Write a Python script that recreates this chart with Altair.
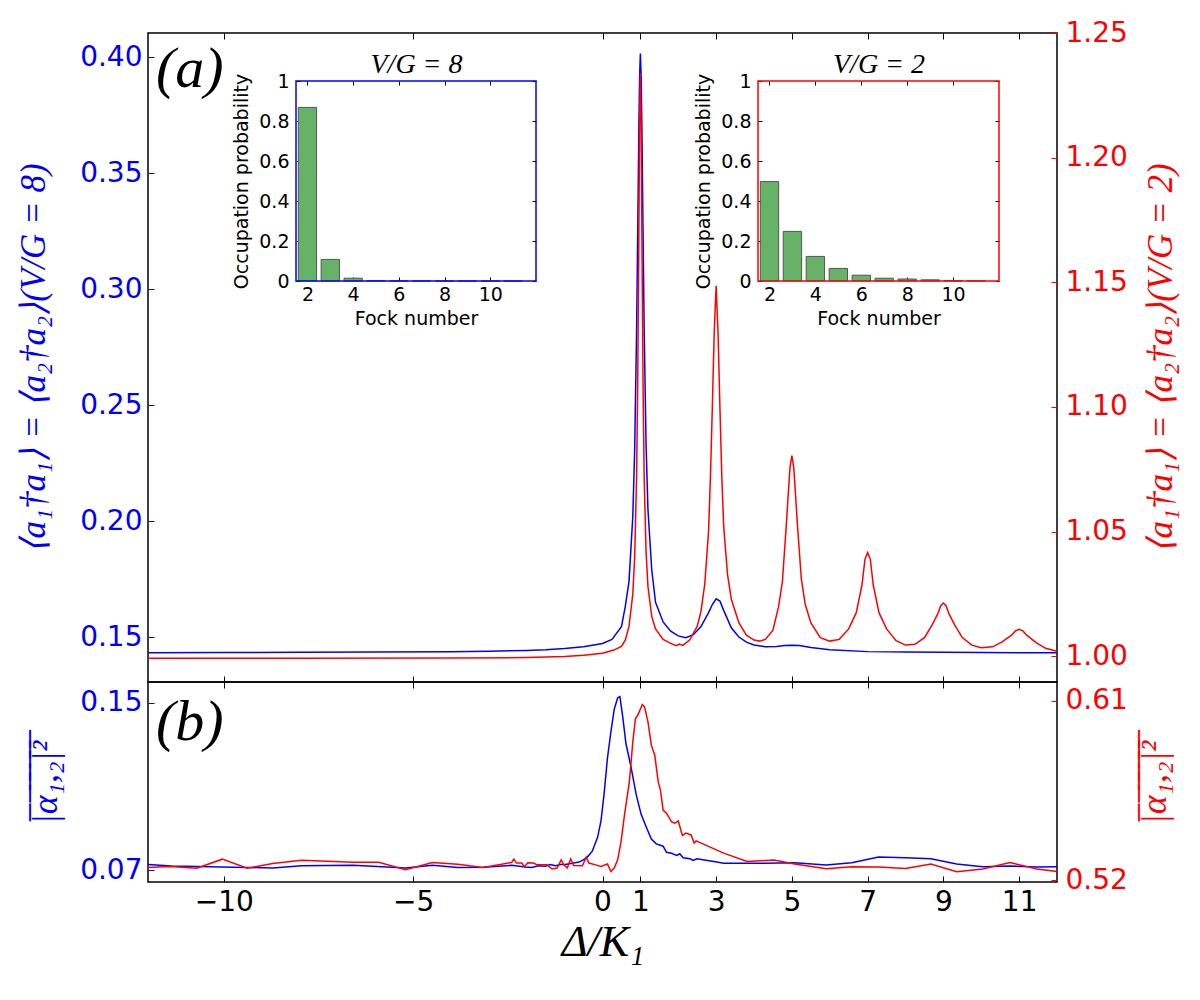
import altair as alt
import pandas as pd

# ---------------- data ----------------
# panel (a): <a1^+ a1> for V/G = 8 (blue, left axis)
a_blue_x = [-12.0, -10.0, -8.0, -6.0, -4.0, -3.0, -2.0, -1.5, -1.0, -0.5,
            0.0, 0.25, 0.5, 0.6, 0.7, 0.8, 0.85, 0.9, 0.93, 0.96,
            0.98, 1.0, 1.02, 1.04, 1.07, 1.1, 1.15, 1.2, 1.3, 1.4,
            1.6, 1.8, 2.0, 2.2, 2.4, 2.6, 2.8, 2.9, 3.0, 3.1,
            3.2, 3.4, 3.6, 3.8, 4.0, 4.3, 4.6, 4.8, 5.0, 5.2,
            5.5, 6.0, 7.0, 8.0, 10.0, 12.0]
a_blue_y = [0.1432, 0.1433, 0.1434, 0.1435, 0.1437, 0.1439, 0.1442, 0.1445, 0.1450, 0.1458,
            0.1472, 0.1490, 0.1545, 0.1630, 0.1740, 0.2020, 0.2310, 0.2820, 0.3250, 0.3700,
            0.3920, 0.4017, 0.3920, 0.3700, 0.3260, 0.2830, 0.2330, 0.2050, 0.1790, 0.1650,
            0.1565, 0.1525, 0.1505, 0.1497, 0.1510, 0.1545, 0.1605, 0.1640, 0.1665, 0.1655,
            0.1615, 0.1540, 0.1500, 0.1478, 0.1466, 0.1458, 0.1459, 0.1463, 0.1465, 0.1463,
            0.1455, 0.1445, 0.1437, 0.1435, 0.1433, 0.1432]

# panel (a): V/G = 2 (red, right axis)
a_red_x = [-12.0, -8.0, -4.0, -2.0, -1.0, -0.5, 0.0, 0.3, 0.5, 0.6,
           0.7, 0.8, 0.85, 0.9, 0.93, 0.96, 0.98, 1.0, 1.02, 1.04,
           1.07, 1.1, 1.15, 1.2, 1.3, 1.4, 1.6, 1.8, 1.95, 2.03,
           2.12, 2.3, 2.5, 2.6, 2.7, 2.8, 2.85, 2.9, 2.95, 3.0,
           3.05, 3.1, 3.15, 3.2, 3.3, 3.4, 3.6, 3.8, 4.0, 4.15,
           4.3, 4.5, 4.65, 4.75, 4.85, 4.9, 4.95, 5.0, 5.05, 5.1,
           5.15, 5.25, 5.35, 5.5, 5.75, 6.0, 6.25, 6.5, 6.7, 6.85,
           6.93, 7.0, 7.07, 7.15, 7.3, 7.5, 7.75, 8.0, 8.25, 8.5,
           8.7, 8.85, 8.93, 9.0, 9.07, 9.15, 9.3, 9.5, 9.75, 10.0,
           10.3, 10.55, 10.8, 10.9, 11.0, 11.1, 11.2, 11.45, 11.7, 12.0]
a_red_y = [0.9992, 0.9992, 0.9993, 0.9995, 0.9999, 1.0004, 1.0012, 1.0025, 1.0040, 1.0065,
           1.0120, 1.0250, 1.0400, 1.0720, 1.1100, 1.1700, 1.2140, 1.2340, 1.2140, 1.1700,
           1.1100, 1.0720, 1.0420, 1.0280, 1.0160, 1.0110, 1.0068, 1.0052, 1.0043, 1.0049,
           1.0044, 1.0065, 1.0120, 1.0180, 1.0290, 1.0500, 1.0720, 1.1000, 1.1300, 1.1486,
           1.1300, 1.1000, 1.0720, 1.0520, 1.0330, 1.0230, 1.0135, 1.0085, 1.0065, 1.0061,
           1.0068, 1.0105, 1.0200, 1.0300, 1.0520, 1.0640, 1.0757, 1.0805, 1.0757, 1.0640,
           1.0520, 1.0310, 1.0210, 1.0135, 1.0075, 1.0061, 1.0068, 1.0110, 1.0175, 1.0285,
           1.0390, 1.0416, 1.0390, 1.0285, 1.0175, 1.0110, 1.0063, 1.0045, 1.0048, 1.0075,
           1.0125, 1.0170, 1.0203, 1.0214, 1.0203, 1.0170, 1.0125, 1.0075, 1.0045, 1.0034,
           1.0038, 1.0058, 1.0085, 1.0102, 1.0108, 1.0102, 1.0085, 1.0055, 1.0032, 1.0020]

# panel (b): mean |alpha_{1,2}|^2
b_blue_x = [-12.0, -11.38, -10.04, -8.71, -7.95, -6.58, -5.2, -4.49, -3.82, -3.15,
            -2.4, -2.04, -1.87, -1.69, -1.51, -1.38, -1.24, -1.11, -0.98, -0.8,
            -0.62, -0.53, -0.4, -0.27, -0.13, -0.04, 0.04, 0.13, 0.22, 0.31,
            0.4, 0.46, 0.53, 0.62, 0.76, 0.89, 1.02, 1.16, 1.29, 1.42,
            1.6, 1.69, 1.82, 1.96, 2.04, 2.13, 2.31, 2.4, 2.49, 3.02,
            3.2, 4.27, 5.07, 5.91, 6.58, 7.29, 8.0, 8.67, 9.35, 10.04,
            10.76, 11.47, 12.0]
b_blue_y = [0.0727, 0.0720, 0.07155, 0.0711, 0.0722, 0.07235, 0.0711, 0.0724, 0.0713, 0.0714,
            0.07235, 0.07155, 0.0713, 0.0722, 0.0719, 0.0727, 0.0722, 0.0728, 0.0728, 0.0733,
            0.0739, 0.0747, 0.0763, 0.0791, 0.0857, 0.0936, 0.1061, 0.1234, 0.1359, 0.1469,
            0.1524, 0.1529, 0.1438, 0.1304, 0.1187, 0.1061, 0.0967, 0.0904, 0.0849, 0.0826,
            0.0815, 0.0786, 0.0781, 0.0771, 0.0779, 0.0760, 0.0755, 0.0747, 0.0755, 0.0739,
            0.0734, 0.0734, 0.0736, 0.0725, 0.0736, 0.0763, 0.0760, 0.0755, 0.0730, 0.0717,
            0.0720, 0.0716, 0.0717]
b_red_x = [-12.0, -11.42, -10.71, -10.04, -9.38, -8.71, -7.95, -6.58, -5.91, -5.2,
           -4.49, -3.82, -3.15, -2.4, -2.34, -2.27, -2.13, -2.06, -1.97, -1.82,
           -1.73, -1.47, -1.33, -1.2, -1.09, -1.02, -0.93, -0.84, -0.76, -0.53,
           -0.43, -0.36, -0.18, -0.04, 0.13, 0.22, 0.31, 0.4, 0.49, 0.58,
           0.71, 0.8, 0.87, 0.93, 1.05, 1.11, 1.2, 1.29, 1.38, 1.47,
           1.53, 1.6, 1.69, 1.82, 1.91, 2.0, 2.11, 2.2, 2.34, 2.42,
           2.47, 3.2, 3.82, 4.53, 5.07, 5.91, 6.58, 7.29, 8.0, 8.67,
           9.35, 10.04, 10.76, 11.47, 12.0]
b_red_y = [0.5265, 0.5270, 0.52615, 0.53065, 0.52615, 0.5285, 0.53015, 0.52915, 0.52915, 0.52535,
           0.5290, 0.52815, 0.5265, 0.5290, 0.5307, 0.5287, 0.5287, 0.5268, 0.5288, 0.5287,
           0.5278, 0.5278, 0.5257, 0.5262, 0.5303, 0.5278, 0.5262, 0.5308, 0.5275, 0.5273,
           0.5317, 0.5287, 0.5278, 0.5270, 0.5282, 0.5245, 0.5262, 0.5303, 0.5395, 0.5528,
           0.5695, 0.5895, 0.6012, 0.6028, 0.6082, 0.6070, 0.5995, 0.5878, 0.5828, 0.5695,
           0.5653, 0.5553, 0.5537, 0.5495, 0.5487, 0.5498, 0.5425, 0.5437, 0.5428, 0.5387,
           0.5398, 0.5337, 0.5295, 0.5302, 0.5282, 0.5259, 0.5269, 0.5267, 0.5260, 0.5282,
           0.5244, 0.5257, 0.5290, 0.5257, 0.5245]

# insets: occupation probability vs Fock number
fock_n = [2, 3, 4, 5, 6, 7, 8, 9, 10, 11]
p_vg8 = [0.868, 0.108, 0.014, 0.002, 0.0005, 0.0002, 0.0001, 0.0, 0.0, 0.0]
p_vg2 = [0.497, 0.248, 0.123, 0.063, 0.029, 0.014, 0.010, 0.006, 0.002, 0.001]

# tick values / labels
x_ticks = [-10, -5, 0, 1, 3, 5, 7, 9, 11]
a_blue_ticks = [0.15, 0.20, 0.25, 0.30, 0.35, 0.40]
a_red_ticks = [1.00, 1.05, 1.10, 1.15, 1.20, 1.25]
b_blue_ticks = [0.07, 0.15]
b_red_ticks = [0.52, 0.61]
fock_ticks = [2, 4, 6, 8, 10]
prob_ticks = [0, 0.2, 0.4, 0.6, 0.8, 1]

title_a_blue = "⟨a₁†a₁⟩ = ⟨a₂†a₂⟩(V/G = 8)"
title_a_red = "⟨a₁†a₁⟩ = ⟨a₂†a₂⟩(V/G = 2)"
title_b = "".join(ch + "\u0305" for ch in "|α₁,₂|²")
title_x = "Δ/K₁"

# ---------------- layout / style ----------------
W, HA, HB = 909, 649, 200
TL, TLI = 6, 4
X_DOM = [-12, 12]
A_BLUE_DOM = [0.1306, 0.4105]
A_RED_DOM = [0.9897, 1.25]
B_BLUE_DOM = [0.0644, 0.1599]
B_RED_DOM = [0.5192, 0.6195]
FOCK_DOM = [1.5, 12]
IN_Y_RANGE = [248, 48]
IN1_X_RANGE = [148, 388]
IN2_X_RANGE = [610, 851]
BLUE, RED = "#0000ff", "#ff0000"
SERIF = "Liberation Serif"
SANS = "DejaVu Sans"


def line_df(xs, ys):
    return pd.DataFrame({"x": xs, "y": ys})


def x_axis(orient, labels, title=None):
    kw = dict(orient=orient, values=x_ticks, offset=-TL, tickSize=TL, tickColor="black",
              tickWidth=1, domain=False, grid=False, labels=labels, labelFlush=False,
              labelFont=SANS, labelFontSize=28, labelColor="black", labelPadding=6)
    if title:
        kw.update(title=title, titleFont=SERIF, titleFontSize=44, titleFontStyle="italic",
                  titleFontWeight="normal", titleColor="black", titlePadding=4)
    else:
        kw.update(title=None)
    return alt.Axis(**kw)


def y_axis(orient, values, color, title, tsize, tpad, lpad, right=False):
    kw = dict(orient=orient, values=values, format=".2f", offset=-TL, tickSize=TL,
              tickColor=color, tickWidth=1, labelColor=color, labelFontSize=28,
              labelFont=SANS, labelPadding=lpad, domain=False, grid=False,
              title=title, titleColor=color, titleFont=SERIF, titleFontSize=tsize,
              titleFontStyle="italic", titleFontWeight="normal", titlePadding=tpad)
    if right:
        kw.update(titleAngle=270, titleBaseline="top")
    return alt.Axis(**kw)


def main_line(xs, ys, color, xdom, ydom, xax, yax):
    return alt.Chart(line_df(xs, ys)).mark_line(color=color, strokeWidth=1.5).encode(
        x=alt.X("x:Q", scale=alt.Scale(domain=xdom, nice=False, zero=False), axis=xax),
        y=alt.Y("y:Q", scale=alt.Scale(domain=ydom, nice=False, zero=False), axis=yax),
    )


def inset(probs, xr, color, title):
    xs = alt.Scale(domain=FOCK_DOM, range=xr, nice=False, zero=False)
    ys = alt.Scale(domain=[0, 1], range=IN_Y_RANGE, nice=False, zero=False)
    df = pd.DataFrame({"n": fock_n, "p": probs})
    bars = alt.Chart(df).transform_calculate(
        x0="datum.n - 0.4", x1="datum.n + 0.4", base="0"
    ).mark_rect(fill="#66b266", stroke="#555555", strokeWidth=1).encode(
        x=alt.X("x0:Q", scale=xs, axis=alt.Axis(
            orient="bottom", values=fock_ticks, offset=IN_Y_RANGE[0] - TLI - HA,
            tickSize=TLI, tickColor="black", domain=False, grid=False, labelFlush=False,
            labelFont=SANS, labelFontSize=19, labelColor="black", labelPadding=4,
            title="Fock number", titleFont=SANS, titleFontSize=19, titleFontWeight="normal",
            titleColor="black", titlePadding=5)),
        x2="x1:Q",
        y=alt.Y("p:Q", scale=ys, axis=alt.Axis(
            orient="left", values=prob_ticks, format="~g", offset=-(xr[0] + TLI),
            tickSize=TLI, tickColor="black", domain=False, grid=False,
            labelFont=SANS, labelFontSize=19, labelColor="black", labelPadding=7,
            title="Occupation probability", titleFont=SANS, titleFontSize=19,
            titleFontWeight="normal", titleColor="black", titlePadding=7)),
        y2="base:Q",
    )
    fdf = pd.DataFrame({"fx0": [FOCK_DOM[0]], "fx1": [FOCK_DOM[1]], "fy0": [0], "fy1": [1]})
    frame = alt.Chart(fdf).mark_rect(filled=False, stroke=color, strokeWidth=1.5).encode(
        x=alt.X("fx0:Q", scale=xs, axis=alt.Axis(
            orient="top", values=fock_ticks, offset=-(IN_Y_RANGE[1] + TLI), tickSize=TLI,
            tickColor="black", domain=False, grid=False, labels=False,
            title=title, titleFont=SERIF, titleFontSize=28, titleFontStyle="italic",
            titleFontWeight="normal", titleColor="black", titlePadding=2)),
        x2="fx1:Q",
        y=alt.Y("fy0:Q", scale=ys, axis=alt.Axis(
            orient="right", values=prob_ticks, offset=(xr[1] - TLI) - W, tickSize=TLI,
            tickColor="black", domain=False, grid=False, labels=False, title=None)),
        y2="fy1:Q",
    )
    return bars, frame


def panel_label(text, y):
    return alt.Chart(pd.DataFrame({"t": [text]})).mark_text(
        font=SERIF, fontStyle="italic", fontSize=58, align="left", baseline="top", color="black"
    ).encode(text="t:N", x=alt.value(8), y=alt.value(y))


# ---------------- panel (a) ----------------
blue_a = main_line(a_blue_x, a_blue_y, BLUE, X_DOM, A_BLUE_DOM,
                   x_axis("bottom", False),
                   y_axis("left", a_blue_ticks, BLUE, title_a_blue, 35, 28, 6))
red_a = main_line(a_red_x, a_red_y, RED, X_DOM, A_RED_DOM,
                  x_axis("top", False),
                  y_axis("right", a_red_ticks, RED, title_a_red, 35, 16, 8, right=True))
bars1, frame1 = inset(p_vg8, IN1_X_RANGE, BLUE, "V/G = 8")
bars2, frame2 = inset(p_vg2, IN2_X_RANGE, RED, "V/G = 2")

panel_a = alt.layer(blue_a, red_a, bars1, frame1, bars2, frame2, panel_label("(a)", 8)).resolve_scale(
    x="independent", y="independent"
).properties(width=W, height=HA)

# ---------------- panel (b) ----------------
blue_b = main_line(b_blue_x, b_blue_y, BLUE, X_DOM, B_BLUE_DOM,
                   x_axis("bottom", True, title_x),
                   y_axis("left", b_blue_ticks, BLUE, title_b, 36, 15, 6))
red_b = main_line(b_red_x, b_red_y, RED, X_DOM, B_RED_DOM,
                  x_axis("top", False),
                  y_axis("right", b_red_ticks, RED, title_b, 36, 10, 8, right=True))

panel_b = alt.layer(blue_b, red_b, panel_label("(b)", 12)).resolve_scale(
    x="independent", y="independent"
).properties(width=W, height=HB)

chart = alt.vconcat(panel_a, panel_b, spacing=0, bounds="flush").properties(
    padding={"left": 7, "top": 10, "right": 5, "bottom": 5}
).configure_view(stroke="black", strokeWidth=1.5).configure_axis(grid=False)

chart.save("out.html", embed_options={"renderer": "svg", "actions": False})
